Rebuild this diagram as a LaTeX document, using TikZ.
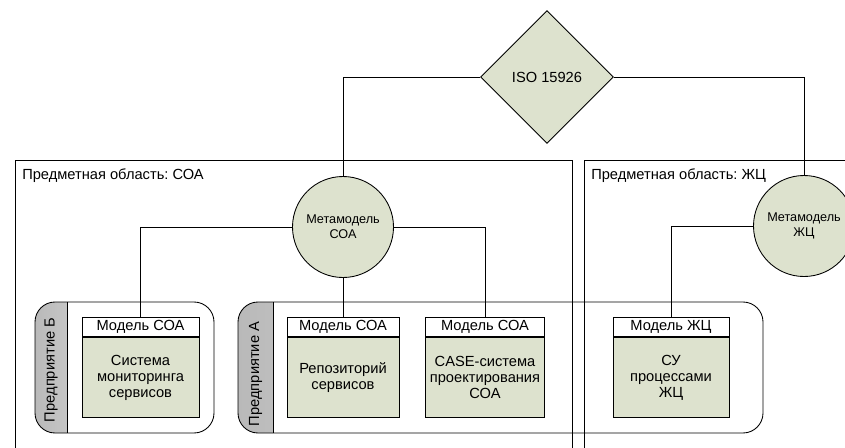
\documentclass[tikz,border=0pt]{standalone}
\usepackage{fontspec}
\setmainfont{Liberation Sans}
\usetikzlibrary{shapes.geometric,positioning}
\frenchspacing
\definecolor{olivefill}{RGB}{221,226,206}
\definecolor{tabgray}{RGB}{185,185,185}
\tikzset{
  thinln/.style={line width=0.65pt},
  txtfont/.style={font=\fontsize{11}{12}\selectfont},
  metanode/.style={circle, draw, thinln, fill=olivefill, minimum size=75.75pt,
    inner sep=0pt, align=center, font=\fontsize{9.5}{11}\selectfont},
  stdnode/.style={diamond, draw, thinln, fill=olivefill, minimum size=99.75pt,
    inner sep=0pt, txtfont},
  hdrbox/.style={draw, thinln, fill=white, minimum height=14.25pt,
    inner sep=0pt, anchor=south, txtfont},
  bodybox/.style={draw, thinln, fill=olivefill, minimum height=60pt,
    inner sep=0pt, anchor=north, align=center, txtfont},
  tablbl/.style={rotate=90, inner sep=0pt, txtfont},
}
% model box: name, x, width, header, body
\newcommand{\modelbox}[5]{%
  \node[bodybox, minimum width=#3] (body#1) at (#2,337) {#5};
  \node[hdrbox, minimum width=#3] (hdr#1) at (#2,337) {#4};
}
% enterprise container: x1, tab x, x2
\newcommand{\entbox}[3]{%
  \begin{scope}
    \clip (#1,302) rectangle (#2,433);
    \shade[left color=tabgray, right color=white, rounded corners=15pt]
      (#1,302) rectangle (#3,433);
  \end{scope}
  \draw[thinln, rounded corners=15pt] (#1,302) rectangle (#3,433);
  \draw[thinln] (#2,302) -- (#2,433);
}

\begin{document}
\begin{tikzpicture}[x=0.75pt, y=-0.75pt]
  \useasboundingbox (0,0) rectangle (845,447);
  \clip (0,0) rectangle (845,447);

  % subject areas
  \draw[thinln] (572,470) -- (572,160) -- (15,160) -- (15,470);
  \draw[thinln] (584,470) -- (584,160) -- (860,160);
  \node[anchor=west, inner sep=0pt, txtfont] (lblSOA) at (22,176)
    {Предметная область: СОА};
  \node[anchor=west, inner sep=0pt, txtfont] (lblLC) at (591,176)
    {Предметная область: ЖЦ};

  % enterprises
  \entbox{35}{67}{214}
  \node[tablbl] (entB) at (51,370) {Предприятие Б};
  \entbox{238}{273}{763}
  \node[tablbl] (entA) at (255.5,374) {Предприятие А};

  % standard and metamodels
  \node[stdnode] (iso) at (547,77) {ISO 15926};
  \node[metanode] (metaSOA) at (343,227) {Метамодель\\СОА};
  \node[metanode] (metaLC) at (804,226) {Метамодель\\ЖЦ};

  % models
  \modelbox{B}{140.5}{87.75pt}{Модель СОА}{Система\\мониторинга\\сервисов}
  \modelbox{Aone}{343}{84pt}{Модель СОА}{Репозиторий\\сервисов}
  \modelbox{Atwo}{485}{89.25pt}{Модель СОА}{CASE-система\\проектирования\\СОА}
  \modelbox{LC}{671}{87pt}{Модель ЖЦ}{СУ\\процессами\\ЖЦ}

  % connectors
  \draw[thinln] (iso.west) -| (metaSOA.north);
  \draw[thinln] (iso.east) -| (metaLC.north);
  \draw[thinln] (metaSOA.west) -| (hdrB.north);
  \draw[thinln] (metaSOA.east) -| (hdrAtwo.north);
  \draw[thinln] (metaSOA.south) -- (hdrAone.north);
  \draw[thinln] (metaLC.west) -| (hdrLC.north);
\end{tikzpicture}
\end{document}
